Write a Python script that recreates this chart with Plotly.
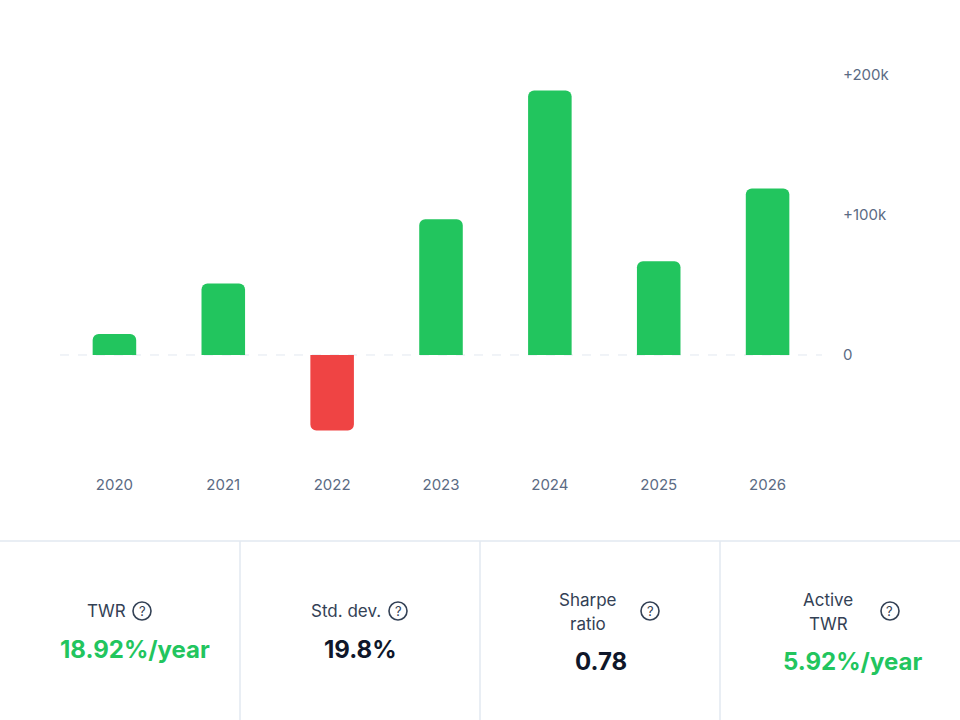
import plotly.graph_objects as go

years = ["2020", "2021", "2022", "2023", "2024", "2025", "2026"]
returns = [15000, 51000, -54000, 97000, 189000, 67000, 119000]
ytick_vals = [0, 100000, 200000]
ytick_text = ["0", "+100k", "+200k"]

stat_labels = [["TWR"], ["Std. dev."], ["Sharpe", "ratio"], ["Active", "TWR"]]
stat_values = ["18.92%/year", "19.8%", "0.78", "5.92%/year"]
stat_colors = ["#22c55e", "#0f172a", "#0f172a", "#22c55e"]

GREEN = "#22c55e"
RED = "#ef4444"
FONT = "Inter, Roboto, sans-serif"

fig = go.Figure()
fig.add_trace(go.Bar(
    x=years, y=returns,
    marker=dict(color=[GREEN if v >= 0 else RED for v in returns],
                cornerradius=6, line=dict(width=0)),
    width=0.4, hoverinfo="skip",
))

fig.add_shape(type="line", xref="paper", yref="y", x0=0, x1=1, y0=0, y1=0,
              line=dict(color="#e2e8f0", width=1, dash="dash"), layer="below")

W, H = 960, 720
ml, mr, mt, mb = 60, 138, 40, 255
pw, ph = W - ml - mr, H - mt - mb

def px_x(x):
    return (x - ml) / pw

def px_y(y):
    return (H - mb - y) / ph

fig.add_shape(type="line", xref="paper", yref="paper", x0=px_x(-5), x1=px_x(965),
              y0=px_y(541), y1=px_y(541), line=dict(color="#e2e8f0", width=1.5))
for xd in [240, 480, 720]:
    fig.add_shape(type="line", xref="paper", yref="paper",
                  x0=px_x(xd), x1=px_x(xd), y0=px_y(541), y1=px_y(725),
                  line=dict(color="#e2e8f0", width=1.5))

label_x = [106, 346, 588, 828]
icon_pos = [(142, 611), (398, 611), (650, 611), (890, 611)]
value_pos = [(135, 649), (360, 649), (601, 662), (852, 662)]

for i in range(4):
    lines = stat_labels[i]
    ys = [611] if len(lines) == 1 else [600, 624]
    for txt, ly in zip(lines, ys):
        fig.add_annotation(xref="paper", yref="paper", x=px_x(label_x[i]), y=px_y(ly),
                           text=txt, showarrow=False,
                           font=dict(family=FONT, size=17, color="#334155"),
                           xanchor="center", yanchor="middle", align="center")
    ix, iy = icon_pos[i]
    r = 9
    fig.add_shape(type="circle", xref="paper", yref="paper",
                  x0=px_x(ix - r), x1=px_x(ix + r), y0=px_y(iy + r), y1=px_y(iy - r),
                  line=dict(color="#334155", width=1.6))
    fig.add_annotation(xref="paper", yref="paper", x=px_x(ix), y=px_y(iy),
                       text="?", showarrow=False,
                       font=dict(family=FONT, size=13, color="#334155"),
                       xanchor="center", yanchor="middle")
    vx, vy = value_pos[i]
    fig.add_annotation(xref="paper", yref="paper", x=px_x(vx), y=px_y(vy),
                       text="<b>" + stat_values[i] + "</b>", showarrow=False,
                       font=dict(family=FONT, size=24, color=stat_colors[i]),
                       xanchor="center", yanchor="middle")

fig.update_layout(
    width=W, height=H,
    margin=dict(l=ml, r=mr, t=mt, b=mb),
    plot_bgcolor="white", paper_bgcolor="white",
    showlegend=False, bargap=0.6,
    font=dict(family=FONT, color="#5b6b84"),
    xaxis=dict(showgrid=False, zeroline=False, showline=False, ticks="",
               tickfont=dict(size=15, color="#5b6b84"), ticklabelstandoff=9,
               fixedrange=True),
    yaxis=dict(side="right", range=[-78600, 225000], tickvals=ytick_vals,
               ticktext=ytick_text, showgrid=False, zeroline=False, showline=False,
               ticks="", tickfont=dict(size=15, color="#5b6b84"),
               ticklabelstandoff=20, fixedrange=True),
)

fig.write_html("out.html", config={"displayModeBar": False})
